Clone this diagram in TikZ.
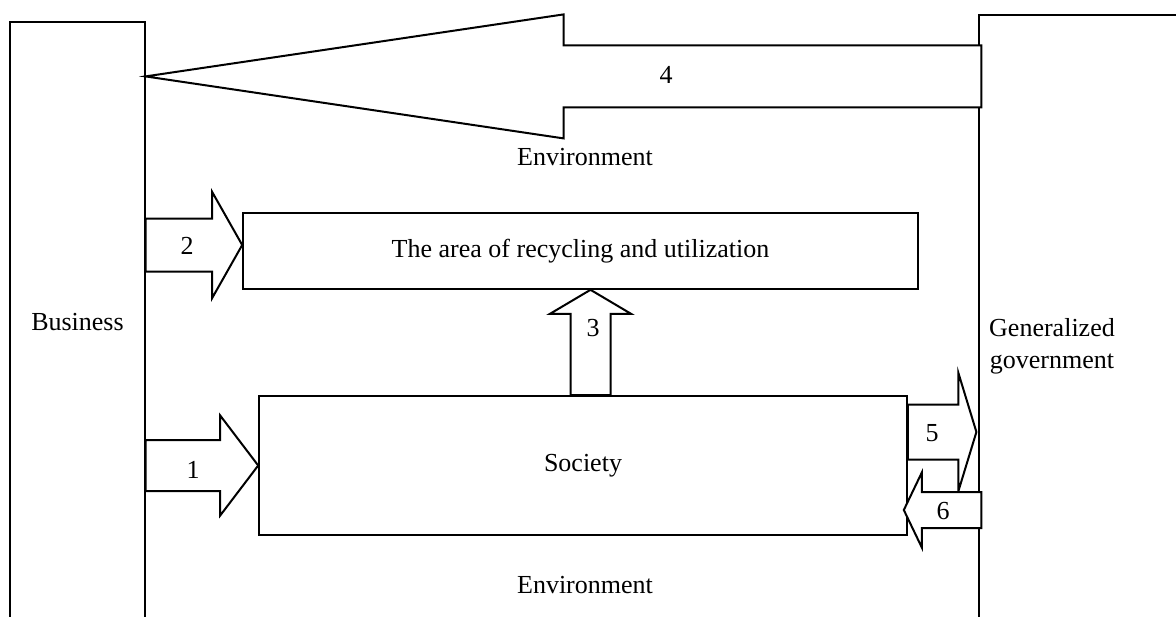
\documentclass[tikz,border=0pt]{standalone}
\usepackage{fontspec}
\setmainfont{Liberation Serif}
\usetikzlibrary{calc}

\tikzset{
    every node/.style={font=\fontsize{13}{16}\selectfont},
    sidebox/.style={draw,line width=0.6pt},
    areabox/.style={draw,line width=0.8pt},
    blk/.style={draw,line width=1pt,fill=white,line join=miter},
    lbl/.style={inner sep=0pt}
}

% block arrow along x: start, tip, shaft half width, head half width, head length
\newcommand{\harrow}[5]{%
    \draw[blk] let \p1=(#1), \p2=(#2) in
        (\x1,{\y2+#3}) -- ({\x2-(#5)},{\y2+#3}) -- ({\x2-(#5)},{\y2+#4}) -- (\p2)
        -- ({\x2-(#5)},{\y2-#4}) -- ({\x2-(#5)},{\y2-#3}) -- (\x1,{\y2-#3}) -- cycle;}
% block arrow pointing up
\newcommand{\varrow}[5]{%
    \draw[blk] let \p1=(#1), \p2=(#2) in
        ({\x2-#3},\y1) -- ({\x2-#3},{\y2-#5}) -- ({\x2-#4},{\y2-#5}) -- (\p2)
        -- ({\x2+#4},{\y2-#5}) -- ({\x2+#3},{\y2-#5}) -- ({\x2+#3},\y1) -- cycle;}

\begin{document}
\begin{tikzpicture}[x=0.5pt,y=-0.5pt]
    \useasboundingbox (0,0) rectangle (1176,616);
    \clip (0,0) rectangle (1176,616);

    \node[sidebox,minimum width=67.5pt,minimum height=300pt] (business) at (77.5,322) {Business};
    \node[sidebox,minimum width=105.5pt,minimum height=315pt] (gov) at (1084.5,330) {};
    \node[lbl,align=center] (govtext) at (1052,346) {Generalized\\government};

    \node[areabox,minimum width=337.5pt,minimum height=38pt] (recycle) at (580.5,251) {The area of recycling and utilization};
    \node[areabox,minimum width=324pt,minimum height=69.5pt] (society) at (583,465.5) {Society};

    \coordinate (t4) at ([yshift=-27.5pt]business.north east);
    \coordinate (s4) at ([xshift=1.5pt]gov.west);
    \coordinate (t2) at ($(recycle.west)+(0,-6)$);
    \coordinate (t3) at ($(recycle.south)+(10,0)$);
    \coordinate (s3) at ($(society.north)+(10,0)$);
    \coordinate (t5) at ($(gov.west)+(-2,0)$);
    \coordinate (t5) at (t5 |- 0,432);
    \coordinate (s6) at ([xshift=1.5pt]gov.west);
    \coordinate (t6) at ($(society.east)+(-4,0)$);
    \coordinate (t6) at (t6 |- 0,510);

    \harrow{s4}{t4}{15.5pt}{31pt}{-209pt}
    \harrow{business.east}{t2}{13.25pt}{26.5pt}{15pt}
    \varrow{s3}{t3}{10pt}{20.25pt}{12pt}
    \harrow{business.east}{society.west}{12.75pt}{25pt}{19pt}
    \harrow{society.east}{t5}{13.75pt}{29.5pt}{9pt}
    \harrow{s6}{t6}{9pt}{18.75pt}{-9pt}

    \node[lbl] (n4) at (666,75) {4};
    \node[lbl] (n2) at (187,246) {2};
    \node[lbl] (n3) at (593,328) {3};
    \node[lbl] (n1) at (193,470) {1};
    \node[lbl] (n5) at (932,433) {5};
    \node[lbl] (n6) at (943,511) {6};
    \node[lbl] (env1) at (585,157) {Environment};
    \node[lbl] (env2) at (585,585) {Environment};
\end{tikzpicture}
\end{document}
